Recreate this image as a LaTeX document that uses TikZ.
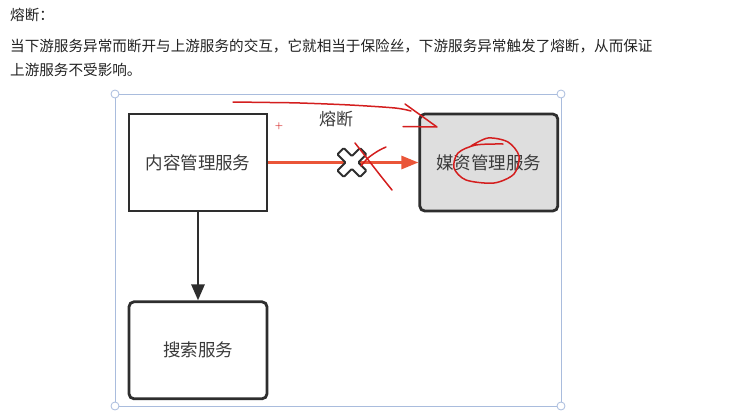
\documentclass[tikz,border=0pt]{standalone}
\usepackage{fontspec}
\usepackage{xcolor}
\usepackage{tikz}
\usetikzlibrary{shapes,arrows.meta,positioning,calc}
\newfontfamily\cjk{Noto Sans CJK SC}
\definecolor{boxline}{HTML}{2E2E2E}
\definecolor{boxtext}{HTML}{3A3A3A}
\definecolor{mediafill}{HTML}{DEDEDE}
\definecolor{fuseline}{HTML}{EA5538}
\definecolor{pen}{HTML}{D41E1E}
\definecolor{selframe}{HTML}{A9BCDD}
\definecolor{bodytext}{HTML}{222222}

\begin{document}
\begin{tikzpicture}[x=1pt, y=-1pt,
    box/.style={rectangle, draw=boxline, line width=2.8pt, minimum width=138pt, minimum height=97pt, align=center, text=boxtext, font=\cjk\fontsize{17.5}{20}\selectfont},
    rbox/.style={box, rounded corners=5pt},
    para/.style={anchor=west, inner sep=0pt, text=bodytext, font=\cjk\fontsize{14.6}{17}\selectfont},
    arrow/.style={-{Triangle[length=16pt,width=13pt]}, line width=2.8pt, draw=boxline},
    fuse/.style={-{Triangle[length=17pt,width=13pt]}, line width=2.8pt, draw=fuseline},
    scribble/.style={draw=pen, line width=1.5pt, line cap=round, line join=round},
    handle/.style={circle, draw=selframe, fill=white, line width=0.8pt, inner sep=0pt, minimum size=8pt}
]
\useasboundingbox (0,0) rectangle (732,418);
\fill[white] (0,0) rectangle (732,418);

% Text above the picture
\node[para] (title) at (10,15) {熔断：};
\node[para] (line1) at (10,46) {当下游服务异常而断开与上游服务的交互，它就相当于保险丝，下游服务异常触发了熔断，从而保证};
\node[para] (line2) at (10,70) {上游服务不受影响。};

% Selection frame
\draw[selframe, line width=0.8pt] (115,94) rectangle (561,406);
\node[handle] (h1) at (115,94) {};
\node[handle] (h2) at (561,94) {};
\node[handle] (h3) at (115,406) {};
\node[handle] (h4) at (561,406) {};

% Main flow
\node[box, fill=white] (content) at (198,162.5) {内容管理服务};
\node[rbox, fill=mediafill, right=150pt of content] (media) {媒资管理服务};
\node[rbox, fill=white, below=88pt of content] (search) {搜索服务};

% Arrows
\draw[arrow] (content) -- (search);
\draw[fuse] (content) -- (media);

% Broken link mark
\coordinate (cut) at ($(content.east)!0.557!(media.west)$);
\begin{scope}[shift={(cut)}, rotate=45]
  \draw[boxline, fill=white, line width=1.9pt, rounded corners=1pt]
    (-4.5,-16) -- (4.5,-16) -- (4.5,-4.5) -- (16,-4.5) -- (16,4.5) -- (4.5,4.5)
    -- (4.5,16) -- (-4.5,16) -- (-4.5,4.5) -- (-16,4.5) -- (-16,-4.5) -- (-4.5,-4.5) -- cycle;
\end{scope}
\node[text=boxtext, font=\cjk\fontsize{17}{20}\selectfont] (fuselabel) at (336,119) {熔断};
\node[text=pen, font=\fontsize{9}{9}\selectfont\bfseries, inner sep=0pt] (plus) at (279,126) {+};

% Pen marks
\draw[scribble] plot[smooth] coordinates {(233,102) (270,102.5) (300,103) (350,105) (395,108) (411,111)};
\draw[scribble] (405,104) -- (437,127) -- (403,126.5);
\draw[scribble] plot[smooth] coordinates {(355,143) (366,157) (380,175) (392,190)};
\draw[scribble] plot[smooth] coordinates {(386,147) (378,151) (368,158) (361,166)};
\draw[scribble] plot[smooth] coordinates {(471,146) (488,138) (508,142) (519,156) (514,174) (494,183) (466,180) (454,168) (458,153) (476,145) (503,144)};
\end{tikzpicture}
\end{document}
